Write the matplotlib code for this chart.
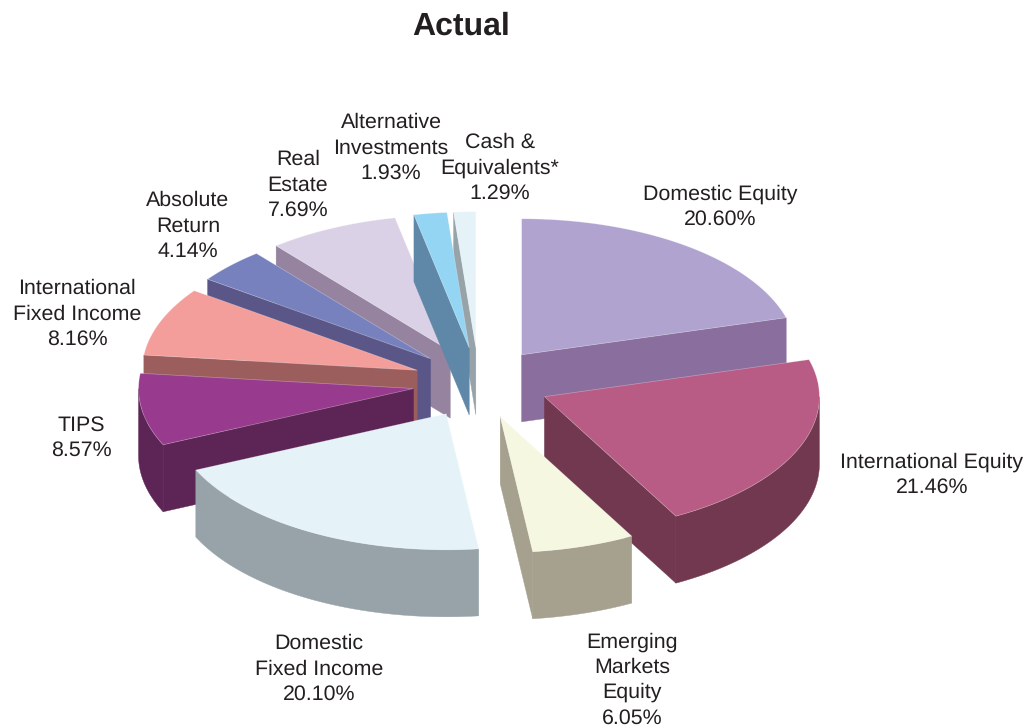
"""Actual allocation, exploded 3D-look pie drawn with polygons."""

import numpy as np
import matplotlib
matplotlib.use("Agg")
import matplotlib.pyplot as plt
from matplotlib.patches import Polygon

plt.rcParams["font.family"] = ["Liberation Sans", "DejaVu Sans"]
plt.rcParams["text.hinting"] = "no_hinting"

# clockwise from 12 o'clock
labels = ["Domestic Equity", "International Equity", "Emerging\nMarkets\nEquity",
          "Domestic\nFixed Income", "TIPS", "International\nFixed Income",
          "Absolute\nReturn", "Real\nEstate", "Alternative\nInvestments",
          "Cash &\nEquivalents*"]
shares = [20.60, 21.46, 6.05, 20.10, 8.57, 8.16, 4.14, 7.69, 1.93, 1.29]
top_colors = ["#B0A3CF", "#B85C85", "#F5F7E1", "#E5F3F9", "#983A8E",
              "#F49E9B", "#7781BD", "#DAD1E6", "#93D5F3", "#E5F3F9"]
side_colors = ["#8A6E9E", "#713850", "#A6A08F", "#97A3A8", "#5C2555",
               "#9C5E5D", "#5A5788", "#96839F", "#5F87A8", "#97A3A8"]
label_pos = [(720, 207), (932, 475), (632, 680), (319, 669), (81, 438),
             (77, 314), (188, 226), (298, 185), (391, 148), (500, 168)]

# pie geometry in pixels
CX, CY = 478.5, 383
RX, RY = 275, 136
DEPTH = 67
EXPLODE = 0.26
LEFT_SQUEEZE = 0.92  # the left half is pulled out a little less
# painter's order, back to front
DRAW_ORDER = [0, 9, 7, 8, 6, 5, 4, 1, 3, 2]


def ell(a, ox, oy):
    return np.column_stack([ox + RX * np.sin(a), oy - RY * np.cos(a)])


def front_facing(p):
    # y axis points down, so a visible wall has a positive shoelace sum
    x, y = p[:, 0], p[:, 1]
    return np.sum(x * np.roll(y, -1) - np.roll(x, -1) * y) > 0


fig = plt.figure(figsize=(10.32, 7.28), dpi=100)
ax = fig.add_axes([0, 0, 1, 1])
ax.set_xlim(0, 1032)
ax.set_ylim(728, 0)
ax.axis("off")

edges = np.cumsum([0] + shares) / sum(shares) * 2 * np.pi
down = np.array([0, DEPTH])

for i in DRAW_ORDER:
    a0, a1 = edges[i], edges[i + 1]
    mid = (a0 + a1) / 2
    dx = EXPLODE * RX * np.sin(mid)
    ox = CX + (dx * LEFT_SQUEEZE if dx < 0 else dx)
    oy = CY - EXPLODE * RY * np.cos(mid)
    apex = np.array([ox, oy])
    arc = ell(np.linspace(a0, a1, 120), ox, oy)

    # radial walls
    wall_end = np.array([apex, arc[-1], arc[-1] + down, apex + down])
    wall_start = np.array([arc[0], apex, apex + down, arc[0] + down])
    for w in (wall_end, wall_start):
        if front_facing(w):
            ax.add_patch(Polygon(w, fc=side_colors[i], ec=side_colors[i], lw=0.3))

    # outer rim, only the part on the near half of the ellipse
    lo, hi = max(a0, np.pi / 2), min(a1, 3 * np.pi / 2)
    if hi > lo:
        rim = ell(np.linspace(lo, hi, 120), ox, oy)
        ax.add_patch(Polygon(np.vstack([rim, rim[::-1] + down]),
                             fc=side_colors[i], ec=side_colors[i], lw=0.3))

    # thin pale edge gives the seam between top and walls
    ax.add_patch(Polygon(np.vstack([apex, arc]), fc=top_colors[i],
                         ec=(1, 1, 1, 0.35), lw=0.5))

for lab, share, (x, y) in zip(labels, shares, label_pos):
    ax.text(x, y, f"{lab}\n{share:.2f}%", ha="center", va="center",
            fontsize=15.4, color="#231F20", linespacing=1.38)

ax.text(461, 26, "Actual", ha="center", va="center", fontsize=23,
        fontweight="bold", color="#231F20")

fig.savefig("out.png", dpi=100)
